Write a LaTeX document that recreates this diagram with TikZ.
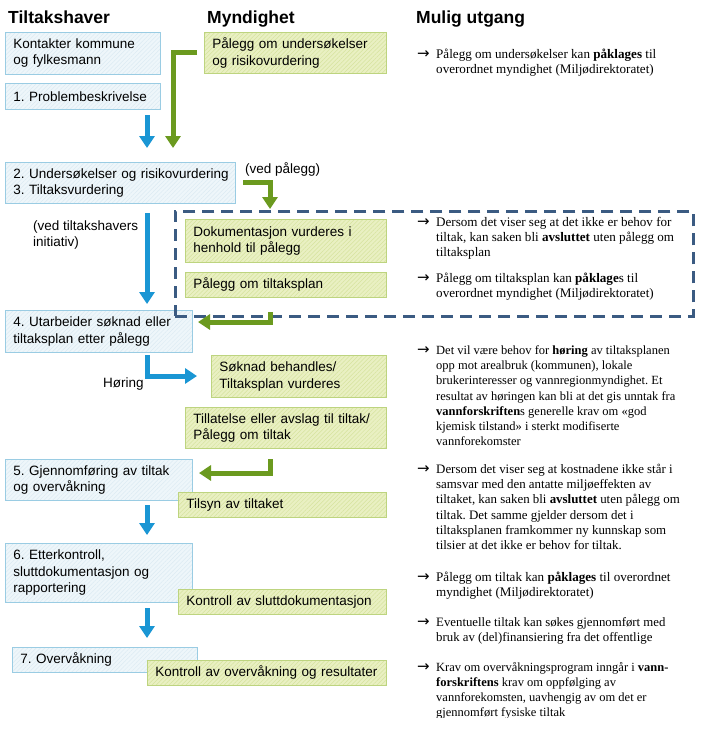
\documentclass[tikz,border=0pt]{standalone}
\usepackage{fontspec}
\setmainfont{Liberation Serif}
\setsansfont{Liberation Sans}
\newfontfamily\arrfam{DejaVu Sans}
\usetikzlibrary{arrows.meta,patterns.meta}
\frenchspacing
\definecolor{bfill}{HTML}{EEF6FA}
\definecolor{bhatch}{HTML}{DCEBF3}
\definecolor{bborder}{HTML}{9ACCE3}
\definecolor{gfill}{HTML}{E9F0C2}
\definecolor{ghatch}{HTML}{D6E39E}
\definecolor{gborder}{HTML}{BDD47F}
\definecolor{barr}{HTML}{1A96D4}
\definecolor{garr}{HTML}{6B9A1F}
\definecolor{dashc}{HTML}{3B5B82}
\newcommand\bxfont{\sffamily\fontsize{13.5pt}{16.5pt}\selectfont\frenchspacing\hyphenpenalty=10000}
\newcommand\hdfont{\sffamily\bfseries\fontsize{17.5pt}{20pt}\selectfont}
% #1 = font size, #2 = text
\newcommand\rp[2]{\parbox[t]{290pt}{\rmfamily\fontsize{#1}{15.2pt}\selectfont\frenchspacing\hangindent=19pt\hangafter=1\noindent\makebox[19pt][l]{\arrfam\fontsize{15pt}{15pt}\selectfont →}#2}}
\tikzset{
  bluebox/.style={draw=bborder, line width=0.8pt, preaction={fill=bfill},
    pattern={Lines[angle=45,distance=3pt,line width=0.5pt]}, pattern color=bhatch,
    font=\bxfont, align=left, inner xsep=8pt, inner ysep=0pt, anchor=north west},
  greenbox/.style={draw=gborder, line width=0.8pt, preaction={fill=gfill},
    pattern={Lines[angle=45,distance=3pt,line width=0.5pt]}, pattern color=ghatch,
    font=\bxfont, align=left, inner xsep=8pt, inner ysep=0pt, anchor=north west},
  dbox/.style={draw=dashc, line width=2.5pt, dash pattern=on 12pt off 7pt, inner sep=0pt, anchor=north west},
  barrow/.style={draw=barr, line width=5pt, -{Triangle[length=12pt,width=15pt]}},
  garrow/.style={draw=garr, line width=5pt, -{Triangle[length=12pt,width=15pt]}},
  hdr/.style={font=\hdfont, inner sep=0pt, anchor=base west},
  lbl/.style={font=\bxfont, inner sep=0pt, anchor=base west},
  rt/.style={inner sep=0pt, anchor=base west}
}
\begin{document}
\begin{tikzpicture}[x=1pt,y=-1pt]
\fill[white] (0,0) rectangle (701,731);
\path[use as bounding box] (0,0) rectangle (701,731);

% headers
\node[hdr] (h1) at (8,23) {Tiltakshaver};
\node[hdr] (h2) at (207,23) {Myndighet};
\node[hdr] (h3) at (416,23.5) {Mulig utgang};

% Tiltakshaver boxes
\node[bluebox, text width=139pt, minimum height=42pt] (b0) at (5,32) {Kontakter kommune\\og fylkesmann};
\node[bluebox, text width=139pt, minimum height=26pt] (b1) at (5,83) {1. Problembeskrivelse};
\node[bluebox, inner xsep=4pt, text width=222pt, minimum height=41pt] (b2) at (5,162) {\hspace*{4pt}2. Undersøkelser og risikovurdering\\\hspace*{4pt}3. Tiltaksvurdering};
\node[bluebox, text width=171pt, minimum height=42pt] (b4) at (5,310) {4. Utarbeider søknad eller\\tiltaksplan etter pålegg};
\node[bluebox, text width=171pt, minimum height=41pt] (b5) at (5,459) {5. Gjennomføring av tiltak\\og overvåkning};
\node[bluebox, text width=171pt, minimum height=59pt] (b6) at (5,543) {6. Etterkontroll,\\sluttdokumentasjon og\\rapportering};
\node[bluebox, text width=169pt, minimum height=25pt] (b7) at (12,647) {7. Overvåkning};

% Myndighet boxes
\node[greenbox, text width=166pt, minimum height=41pt] (g0) at (204,32) {Pålegg om undersøkelser\\og risikovurdering};
\node[greenbox, text width=185pt, minimum height=43pt] (g1) at (185,219) {Dokumentasjon vurderes i\\henhold til pålegg};
\node[greenbox, text width=185pt, minimum height=25pt] (g2) at (185,272) {Pålegg om tiltaksplan};
\node[greenbox, text width=159pt, minimum height=42pt] (g3) at (211,355) {Søknad behandles/\\Tiltaksplan vurderes};
\node[greenbox, text width=185pt, minimum height=41pt] (g4) at (185,407) {Tillatelse eller avslag til tiltak/\\Pålegg om tiltak};
\node[greenbox, text width=192pt, minimum height=25pt] (g5) at (178,492) {Tilsyn av tiltaket};
\node[greenbox, text width=192pt, minimum height=25pt] (g6) at (178,589) {Kontroll av sluttdokumentasjon};
\node[greenbox, text width=223pt, minimum height=25pt] (g7) at (147,660) {Kontroll av overvåkning og resultater};

% dashed frame
\node[dbox, minimum width=518pt, minimum height=105pt] (db) at (174,210) {};

% labels
\node[lbl] (l1) at (245,173) {(ved pålegg)};
\node[lbl] (l2) at (33,230) {\parbox[t]{130pt}{\bxfont(ved tiltakshavers\\initiativ)}};
\node[lbl] (l3) at (103,387) {Høring};

% arrows
\coordinate (a1s) at (147,115); \coordinate (a1e) at (147,148);
\draw[barrow] (a1s) -- (a1e);
\coordinate (a2s) at (197,52); \coordinate (a2e) at (173,148);
\draw[garrow] (a2s) -| (a2e);
\coordinate (a3s) at (243,182); \coordinate (a3e) at (270,209);
\draw[garrow] (a3s) -| (a3e);
\coordinate (a4s) at (147,213); \coordinate (a4e) at (147,304);
\draw[barrow] (a4s) -- (a4e);
\coordinate (a5s) at (270,312); \coordinate (a5e) at (198,322);
\draw[garrow] (a5s) |- (a5e);
\coordinate (a6s) at (147,355); \coordinate (a6e) at (197,376);
\draw[barrow] (a6s) |- (a6e);
\coordinate (a7s) at (270,459); \coordinate (a7e) at (199,473);
\draw[garrow] (a7s) |- (a7e);
\coordinate (a8s) at (147,505); \coordinate (a8e) at (147,535);
\draw[barrow] (a8s) -- (a8e);
\coordinate (a9s) at (147,608); \coordinate (a9e) at (147,638);
\draw[barrow] (a9s) -- (a9e);

% Mulig utgang
\node[rt] (t1) at (417,58.5) {\rp{13.1pt}{Pålegg om undersøkelser kan \textbf{påklages} til\\overordnet myndighet (Miljødirektoratet)}};
\node[rt] (t2) at (417,226) {\rp{13.1pt}{Dersom det viser seg at det ikke er behov for\\tiltak, kan saken bli \textbf{avsluttet} uten pålegg om\\tiltaksplan}};
\node[rt] (t3) at (417,282) {\rp{13.1pt}{Pålegg om tiltaksplan kan \textbf{påklage}s til\\overordnet myndighet (Miljødirektoratet)}};
\node[rt] (t4) at (417,354.5) {\rp{12.5pt}{Det vil være behov for \textbf{høring} av tiltaksplanen\\opp mot arealbruk (kommunen), lokale\\brukerinteresser og vannregionmyndighet. Et\\resultat av høringen kan bli at det gis unntak fra\\\textbf{vannforskriften}s generelle krav om «god\\kjemisk tilstand» i sterkt modifiserte\\vannforekomster}};
\node[rt] (t5) at (417,473.5) {\rp{12.9pt}{Dersom det viser seg at kostnadene ikke står i\\samsvar med den antatte miljøeffekten av\\tiltaket, kan saken bli \textbf{avsluttet} uten pålegg om\\tiltak. Det samme gjelder dersom det i\\tiltaksplanen framkommer ny kunnskap som\\tilsier at det ikke er behov for tiltak.}};
\node[rt] (t6) at (417,581.5) {\rp{13.1pt}{Pålegg om tiltak kan \textbf{påklages} til overordnet\\myndighet (Miljødirektoratet)}};
\node[rt] (t7) at (417,626.5) {\rp{12.8pt}{Eventuelle tiltak kan søkes gjennomført med\\bruk av (del)finansiering fra det offentlige}};
\begin{scope}
\clip (400,650) rectangle (701,717);
\node[rt] (t8) at (417,671) {\rp{12.5pt}{Krav om overvåkningsprogram inngår i \textbf{vann-}\\\textbf{forskriftens} krav om oppfølging av\\vannforekomsten, uavhengig av om det er\\gjennomført fysiske tiltak}};
\end{scope}
\end{tikzpicture}
\end{document}
